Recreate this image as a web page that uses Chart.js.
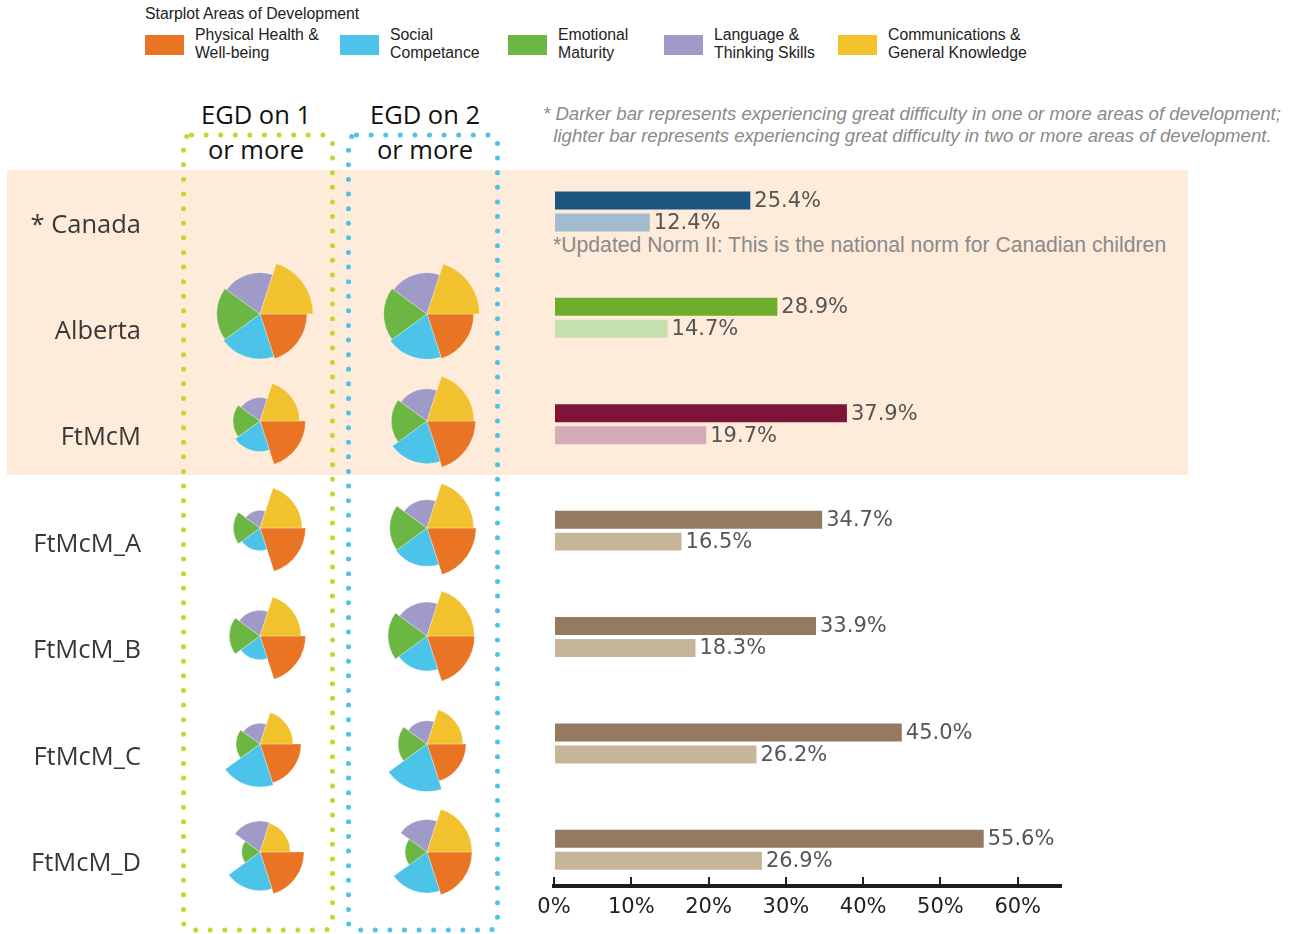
<!DOCTYPE html>
<html>
<head>
<meta charset="utf-8">
<script src="https://cdn.jsdelivr.net/npm/chart.js@4.4.1/dist/chart.umd.min.js"></script>
<style>
  body { margin: 0; background: #fff; font-family: "Liberation Sans", Arial, sans-serif; }
  #page { position: relative; width: 1302px; height: 934px; overflow: hidden; }
  .abs { position: absolute; }
  #band { left: 7px; top: 170px; width: 1181px; height: 305px; background: #feebda; }
  #legendTitle { left: 145px; top: 5px; font-size: 15.8px; color: #222; }
  .swatch { width: 39px; height: 20px; top: 35px; }
  .legText { top: 26px; font-size: 15.8px; line-height: 18px; color: #222; }
  .head { width: 160px; text-align: center; font-family: "Open Sans", sans-serif; font-size: 25.5px; color: #111; line-height: 35px; top: 97px; }
  #note { left: 543px; top: 103px; font-size: 18.6px; line-height: 22px; font-style: italic; color: #8a8a8a; }
  #norm { left: 553px; top: 233px; font-size: 21.2px; color: #8a8a8a; }
  canvas { position: absolute; }
  svg { position: absolute; left: 0; top: 0; }
</style>
</head>
<body>
<div id="page">
  <div id="band" class="abs"></div>
  <svg width="1302" height="934">
    <rect x="183.5" y="135" width="149" height="795" rx="8" fill="none" stroke="#c2d82e" stroke-width="5" stroke-linecap="round" stroke-dasharray="0 14.6"/>
    <rect x="348.5" y="135" width="149" height="795" rx="8" fill="none" stroke="#4cc3e8" stroke-width="5" stroke-linecap="round" stroke-dasharray="0 14.6"/>
  </svg>
  <div id="legendTitle" class="abs">Starplot Areas of Development</div>
  <div id="legend"></div>
  <div class="abs head" style="left:176px">EGD on 1<br>or more</div>
  <div class="abs head" style="left:345px">EGD on 2<br>or more</div>
  <div id="note" class="abs">* Darker bar represents experiencing great difficulty in one or more areas of development;<br>&nbsp;&nbsp;lighter bar represents experiencing great difficulty in two or more areas of development.</div>
  <div id="norm" class="abs">*Updated Norm II: This is the national norm for Canadian children</div>
  <canvas id="bars" width="1100" height="794" style="left:0;top:140px"></canvas>
</div>

<script>
// ---- data ----
const regions = ['* Canada', 'Alberta', 'FtMcM', 'FtMcM_A', 'FtMcM_B', 'FtMcM_C', 'FtMcM_D']
const egdOneOrMore = [25.4, 28.9, 37.9, 34.7, 33.9, 45.0, 55.6]
const egdTwoOrMore = [12.4, 14.7, 19.7, 16.5, 18.3, 26.2, 26.9]
const xTickValues = [0, 10, 20, 30, 40, 50, 60]

const areas = [
  ['Physical Health &', 'Well-being'],
  ['Social', 'Competance'],
  ['Emotional', 'Maturity'],
  ['Language &', 'Thinking Skills'],
  ['Communications &', 'General Knowledge']
]

// starplot wedge lengths (estimated), order as in areas; Canada has no starplot
const starRegions = ['Alberta', 'FtMcM', 'FtMcM_A', 'FtMcM_B', 'FtMcM_C', 'FtMcM_D']
const starEgd1 = [
  [47, 45, 43.3, 41.3, 53],
  [45.5, 30.5, 27, 23.5, 39.5],
  [45.5, 22.7, 26.7, 17.7, 42],
  [45.5, 23.7, 30.7, 25.7, 41],
  [41, 43, 24, 20.7, 33],
  [44, 38.7, 18.3, 31, 30.3]
]
const starEgd2 = [
  [46.7, 45.3, 43.3, 41.3, 52.5],
  [48.5, 42.7, 35.7, 32.3, 47],
  [49, 38.3, 37.3, 28.3, 46.7],
  [47.5, 35, 39, 34, 47.3],
  [39, 47.5, 29, 23.3, 36],
  [45, 41, 22, 32.5, 45]
]

// ---- styles ----
const areaColors = ['#e87424', '#4cc3e8', '#6cb744', '#a09ac9', '#f2c12e']
const darkColors = ['#1b5580', '#6cad2d', '#7e1538', '#937a60', '#937a60', '#937a60', '#937a60']
const lightColors = ['#a3bbcf', '#c5e0ac', '#d5abb7', '#c7b59a', '#c7b59a', '#c7b59a', '#c7b59a']
const legendLeft = [145, 340, 508, 664, 838]
const starX = [259.5, 426.5]
const starY = [314, 421, 528, 636, 744, 852]

// legend
const legend = document.getElementById('legend')
areas.forEach((lines, i) => {
  const sw = document.createElement('div')
  sw.className = 'abs swatch'
  sw.style.left = legendLeft[i] + 'px'
  sw.style.background = areaColors[i]
  legend.appendChild(sw)
  const tx = document.createElement('div')
  tx.className = 'abs legText'
  tx.style.left = (legendLeft[i] + 50) + 'px'
  tx.innerHTML = lines.join('<br>')
  legend.appendChild(tx)
})

// value labels at the end of each bar
const valueLabels = {
  id: 'valueLabels',
  afterDatasetsDraw(chart) {
    const ctx = chart.ctx
    ctx.save()
    ctx.font = '21px "DejaVu Sans"'
    ctx.fillStyle = '#555'
    ctx.textBaseline = 'middle'
    chart.data.datasets.forEach((ds, di) => {
      chart.getDatasetMeta(di).data.forEach((bar, i) => {
        ctx.fillText(ds.data[i].x.toFixed(1) + '%', bar.x + 4, bar.y + 1)
      })
    })
    ctx.restore()
  }
}

new Chart(document.getElementById('bars'), {
  type: 'bar',
  data: {
    datasets: [
      {
        label: 'EGD on 1 or more',
        data: egdOneOrMore.map((v, i) => ({ x: v, y: i })),
        backgroundColor: darkColors,
        categoryPercentage: 0.413,
        barPercentage: 0.818
      },
      {
        label: 'EGD on 2 or more',
        data: egdTwoOrMore.map((v, i) => ({ x: v, y: i })),
        backgroundColor: lightColors,
        categoryPercentage: 0.413,
        barPercentage: 0.818
      }
    ]
  },
  options: {
    indexAxis: 'y',
    responsive: false,
    animation: false,
    layout: { padding: { left: 0, right: 39, top: 17.75, bottom: 8 } },
    plugins: { legend: { display: false }, tooltip: { enabled: false } },
    scales: {
      x: {
        type: 'linear',
        position: 'bottom',
        min: 0,
        max: 65.6,
        afterBuildTicks: s => { s.ticks = xTickValues.map(v => ({ value: v })) },
        afterFit: s => { s.height = 40 },
        ticks: {
          callback: v => v + '%',
          font: { family: 'DejaVu Sans', size: 21 },
          color: '#222',
          padding: 18,
          maxRotation: 0
        },
        grid: { drawOnChartArea: false, drawTicks: true, tickLength: -9, color: '#222', lineWidth: 2 },
        border: { display: true, color: '#1e1e1e', width: 4 }
      },
      y: {
        type: 'linear',
        position: 'left',
        weight: 10,
        offset: false,
        reverse: true,
        min: -0.49,
        max: 6.34,
        afterBuildTicks: s => { s.ticks = regions.map((r, i) => ({ value: i })) },
        afterFit: s => { s.width = 145 },
        ticks: {
          callback: v => regions[v],
          font: { family: 'Open Sans', size: 25.5 },
          color: '#383838',
          padding: 4,
          labelOffset: 14,
          autoSkip: false
        },
        grid: { display: false, drawTicks: false },
        border: { display: false }
      },
      // empty axis that only keeps the gap where the starplots sit
      gap: {
        type: 'linear',
        position: 'left',
        weight: 0,
        afterFit: s => { s.width = 409 },
        ticks: { display: false },
        grid: { display: false, drawTicks: false },
        border: { display: false }
      }
    }
  },
  plugins: [valueLabels]
})

// starplots
const page = document.getElementById('page')
function starplot(values, cx, cy) {
  const c = document.createElement('canvas')
  c.width = 120
  c.height = 120
  c.style.left = (cx - 60) + 'px'
  c.style.top = (cy - 60) + 'px'
  page.appendChild(c)
  new Chart(c, {
    type: 'polarArea',
    data: {
      labels: areas.map(a => a.join(' ')),
      datasets: [{
        data: values,
        backgroundColor: areaColors,
        borderColor: 'rgba(255,255,255,0.5)',
        borderWidth: 0.6
      }]
    },
    options: {
      responsive: false,
      animation: false,
      layout: { padding: 0 },
      plugins: { legend: { display: false }, tooltip: { enabled: false } },
      scales: {
        r: {
          min: 0,
          max: 60,
          startAngle: 90,
          ticks: { display: false },
          grid: { display: false },
          angleLines: { display: false },
          pointLabels: { display: false }
        }
      }
    }
  })
}

starRegions.forEach((name, i) => {
  starplot(starEgd1[i], starX[0], starY[i])
  starplot(starEgd2[i], starX[1], starY[i])
})
</script>
</body>
</html>
